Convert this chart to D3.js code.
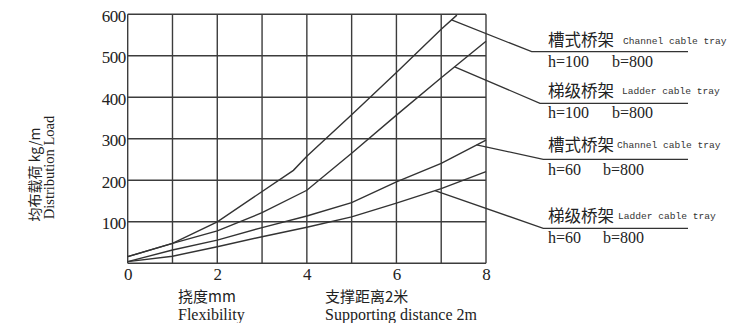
<!DOCTYPE html>
<html>
<head>
<meta charset="utf-8">
<script src="https://cdn.jsdelivr.net/npm/d3@7"></script>
<style>
  html, body { margin: 0; padding: 0; background: #fff; }
  svg { display: block; }
  .serif { font-family: "Liberation Serif", "DejaVu Serif", serif; fill: #222; }
  .cjk { font-family: "Noto Sans CJK SC", sans-serif; fill: #222; }
  .mono { font-family: "Liberation Mono", "DejaVu Sans Mono", monospace; fill: #333; }
</style>
</head>
<body>
<svg id="chart" width="731" height="323"></svg>
<script>
// ---- data ----
const xTickLabels = ["0", "2", "4", "6", "8"];
const yTickLabels = ["100", "200", "300", "400", "500", "600"];
const channel100X = [0, 1, 2, 3.7, 4, 5, 6, 7, 7.35];
const channel100Y = [16, 48, 100, 224, 258, 358, 460, 564, 598];
const ladder100X = [0, 1, 2, 3, 4, 5, 6, 7, 8];
const ladder100Y = [16, 48, 78, 122, 176, 265, 357, 447, 535];
const channel60X = [0, 1, 2, 3, 4, 5, 6, 7, 8];
const channel60Y = [4, 32, 56, 86, 114, 146, 196, 241, 297];
const ladder60X = [0, 1, 2, 3, 4, 5, 6, 7, 8];
const ladder60Y = [4, 17, 40, 64, 87, 112, 145, 180, 221];
const seriesNames = ["槽式桥架", "梯级桥架", "槽式桥架", "梯级桥架"];
const seriesEnglish = ["Channel cable tray", "Ladder cable tray", "Channel cable tray", "Ladder cable tray"];
const seriesH = ["h=100", "h=100", "h=60", "h=60"];
const seriesB = ["b=800", "b=800", "b=800", "b=800"];
const leaderX = [7.23, 7.3, 7.79, 6.86]; // where leader lines leave each curve

// ---- layout ----
const svg = d3.select("#chart");
const x = d3.scaleLinear().domain([0, 8]).range([127.7, 486]);
const y = d3.scaleLinear().domain([0, 600]).range([263.3, 14.3]);

const ink = "#333";

// grid
const g = svg.append("g");
g.selectAll("line.v").data(d3.range(0, 9)).join("line")
  .attr("x1", d => x(d)).attr("x2", d => x(d))
  .attr("y1", y(0)).attr("y2", y(600))
  .attr("stroke", "#3c3c3c").attr("stroke-width", 1.4);
g.selectAll("line.h").data(d3.range(0, 700, 100)).join("line")
  .attr("x1", x(0)).attr("x2", x(8))
  .attr("y1", d => y(d)).attr("y2", d => y(d))
  .attr("stroke", "#3c3c3c").attr("stroke-width", 1.4);

// axes labels via d3 axes (no domain/ticks lines)
const xAxis = d3.axisBottom(x).tickValues(xTickLabels.map(Number)).tickSize(0).tickPadding(0)
  .tickFormat((d, i) => xTickLabels[i]);
const xg = svg.append("g").attr("transform", `translate(0,${y(0)})`).call(xAxis);
xg.select(".domain").remove();
xg.selectAll("text").attr("font-size", 17).attr("dy", null)
  .attr("y", 17).attr("fill", "#222").style("font-family", '"Liberation Serif", serif');

const yAxis = d3.axisLeft(y).tickValues(yTickLabels.map(Number)).tickSize(0).tickPadding(2)
  .tickFormat((d, i) => yTickLabels[i]);
const yg = svg.append("g").attr("transform", `translate(${x(0)},0)`).call(yAxis);
yg.select(".domain").remove();
yg.selectAll("text").attr("font-size", 17).attr("fill", "#222").attr("dy", "0.42em")
  .style("font-family", '"Liberation Serif", serif').style("letter-spacing", "-0.5px");

// curves
const series = [
  { xs: channel100X, ys: channel100Y },
  { xs: ladder100X, ys: ladder100Y },
  { xs: channel60X, ys: channel60Y },
  { xs: ladder60X, ys: ladder60Y }
];
const line = d3.line().x(d => x(d[0])).y(d => y(d[1]));
series.forEach(s => {
  svg.append("path")
    .datum(s.xs.map((v, i) => [v, s.ys[i]]))
    .attr("d", line)
    .attr("fill", "none")
    .attr("stroke", ink)
    .attr("stroke-width", 1.4);
});

// legend (leaders + labels)
const legendAnchor = [
  { lx: 531.7, ly: 51.7, nameY: 46, enX: 623, enY: 44, hY: 67, bX: 612 },
  { lx: 540, ly: 103.3, nameY: 97, enX: 622, enY: 94, hY: 118, bX: 612 },
  { lx: 543.3, ly: 159.3, nameY: 151, enX: 617, enY: 148, hY: 175, bX: 603 },
  { lx: 543.3, ly: 228.3, nameY: 222, enX: 618, enY: 219, hY: 243, bX: 603 }
];
const lineEnd = 688;
series.forEach((s, i) => {
  const lxv = leaderX[i];
  const lyv = d3.scaleLinear().domain(s.xs).range(s.ys)(lxv);
  const a = legendAnchor[i];
  svg.append("polyline")
    .attr("points", `${x(lxv)},${y(lyv)} ${a.lx},${a.ly} ${lineEnd},${a.ly}`)
    .attr("fill", "none").attr("stroke", ink).attr("stroke-width", 1.3);
  svg.append("text").attr("class", "cjk").attr("x", 548).attr("y", a.nameY)
    .attr("font-size", 16.5).text(seriesNames[i]);
  svg.append("text").attr("class", "mono").attr("x", a.enX).attr("y", a.enY)
    .attr("font-size", 9.6).text(seriesEnglish[i]);
  svg.append("text").attr("class", "serif").attr("x", 548).attr("y", a.hY)
    .attr("font-size", 16).text(seriesH[i]);
  svg.append("text").attr("class", "serif").attr("x", a.bX).attr("y", a.hY)
    .attr("font-size", 16).text(seriesB[i]);
});

// axis titles
const yt = svg.append("g");
yt.append("text").attr("class", "cjk")
  .attr("transform", "translate(40,174.5) rotate(-90)")
  .attr("text-anchor", "middle").attr("font-size", 14)
  .text("均布载荷 kg/m");
yt.append("text").attr("class", "serif")
  .attr("transform", "translate(54,167.5) rotate(-90)")
  .attr("text-anchor", "middle").attr("font-size", 14.5)
  .text("Distribution Load");

svg.append("text").attr("class", "cjk").attr("x", 178).attr("y", 301.5).attr("font-size", 15).text("挠度mm");
svg.append("text").attr("class", "serif").attr("x", 178).attr("y", 319.5).attr("font-size", 16).text("Flexibility");
svg.append("text").attr("class", "cjk").attr("x", 325).attr("y", 301.5).attr("font-size", 15).text("支撑距离2米");
svg.append("text").attr("class", "serif").attr("x", 325).attr("y", 319.5).attr("font-size", 16).text("Supporting distance 2m");
</script>
</body>
</html>
